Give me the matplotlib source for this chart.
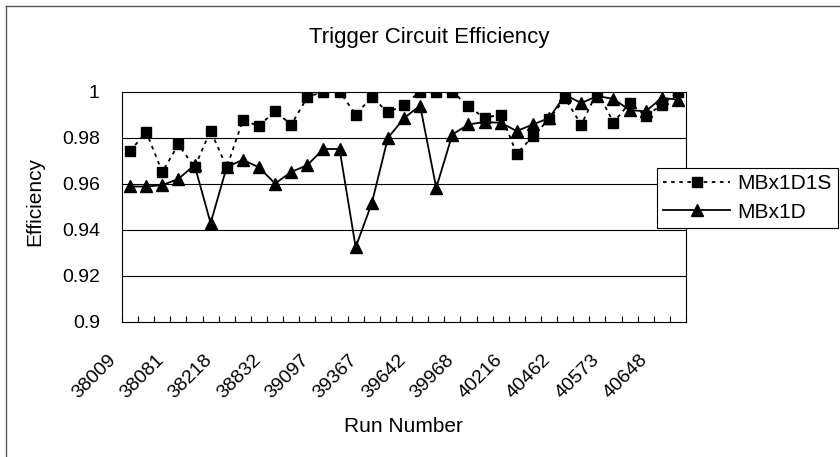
import numpy as np
import matplotlib
matplotlib.use('Agg')
import matplotlib.pyplot as plt
from matplotlib.transforms import ScaledTranslation
from matplotlib.lines import Line2D

# ---- DATA ----
run_labels = ['38009', '38081', '38218', '38832', '39097', '39367',
              '39642', '39968', '40216', '40462', '40573', '40648']
n_runs = 35

mbx1d1s = [0.974, 0.9825, 0.965, 0.977, 0.967, 0.983, 0.967, 0.9875, 0.985,
           0.9915, 0.9855, 0.9975, 1.0, 1.0, 0.990, 0.9975, 0.991, 0.994,
           1.0, 1.0, 1.0, 0.9935, 0.9885, 0.990, 0.973, 0.9805, 0.988,
           0.997, 0.9855, 1.0, 0.9865, 0.995, 0.9895, 0.994, 1.0]

mbx1d = [0.9587, 0.9587, 0.9593, 0.962, 0.968, 0.9428, 0.9672, 0.9703, 0.967,
         0.960, 0.965, 0.968, 0.975, 0.975, 0.9323, 0.9514, 0.9798, 0.9884,
         0.9939, 0.9581, 0.9813, 0.9857, 0.9867, 0.9864, 0.9828, 0.9857,
         0.9884, 0.9985, 0.995, 0.998, 0.9968, 0.9919, 0.9914, 0.9972, 0.9965]

yticks = [0.9, 0.92, 0.94, 0.96, 0.98, 1.0]
ytick_labels = ['0.9', '0.92', '0.94', '0.96', '0.98', '1']

# ---- PLOT ----
plt.rcParams['font.family'] = ['Liberation Sans', 'DejaVu Sans']

W, H = 840, 457
fig = plt.figure(figsize=(W / 100, H / 100), dpi=100)
ax = fig.add_axes([122 / W, 1 - 321.5 / H, (686 - 122) / W, (321.5 - 91.5) / H])

x = np.arange(n_runs)
ax.plot(x, mbx1d1s, color='black', linestyle=(0, (2, 2.5)), linewidth=1.3,
        marker='s', markersize=7, label='MBx1D1S', zorder=3)
ax.plot(x, mbx1d, color='black', linestyle='-', linewidth=1.3,
        marker='^', markersize=9, label='MBx1D', zorder=4)

ax.set_xlim(-0.5, n_runs - 0.5)
ax.set_ylim(0.9, 1.0)

# y axis
ax.set_yticks(yticks)
ax.set_yticklabels(ytick_labels)
ax.tick_params(axis='y', length=0, pad=16, labelsize=14)
for yv in yticks[1:-1]:
    ax.axhline(yv, color='black', linewidth=0.8, zorder=1)

# x axis: tick marks between categories, labels every 3rd run
ax.set_xticks(np.arange(-0.5, n_runs, 1), minor=True)
ax.tick_params(axis='x', which='minor', direction='in', length=4, width=0.8)
ax.set_xticks(x[::3])
ax.set_xticklabels(run_labels, rotation=45, ha='right', va='center',
                   rotation_mode='anchor')
ax.tick_params(axis='x', which='major', length=0, pad=26, labelsize=14)
offset = ScaledTranslation(-17 / 100, 0, fig.dpi_scale_trans)
for lbl in ax.get_xticklabels():
    lbl.set_transform(lbl.get_transform() + offset)

for sp in ax.spines.values():
    sp.set_color('black')
    sp.set_linewidth(0.8)

# titles
fig.text(429 / W, 1 - 37 / H, 'Trigger Circuit Efficiency', ha='center',
         va='center', fontsize=16)
fig.text(403 / W, 1 - 427 / H, 'Run Number', ha='center', va='center',
         fontsize=15)
fig.text(35 / W, 1 - 202 / H, 'Efficiency', ha='center', va='center',
         rotation=90, fontsize=15)

leg = ax.legend(loc='upper left', bbox_to_anchor=(657 / W, 1 - 168 / H),
                bbox_transform=fig.transFigure, borderaxespad=0,
                fontsize=15, handlelength=3.2, handletextpad=0.35,
                borderpad=0.3, labelspacing=0.45, fancybox=False,
                framealpha=1, edgecolor='black')
leg.get_frame().set_linewidth(0.8)

# outer border of the chart area (top and left visible in the scan)
fig.add_artist(Line2D([6 / W, 1], [1 - 6 / H, 1 - 6 / H], color='#555555',
                      linewidth=1, transform=fig.transFigure))
fig.add_artist(Line2D([6 / W, 6 / W], [0, 1 - 6 / H], color='#555555',
                      linewidth=1, transform=fig.transFigure))

fig.savefig('out.png', dpi=100)
